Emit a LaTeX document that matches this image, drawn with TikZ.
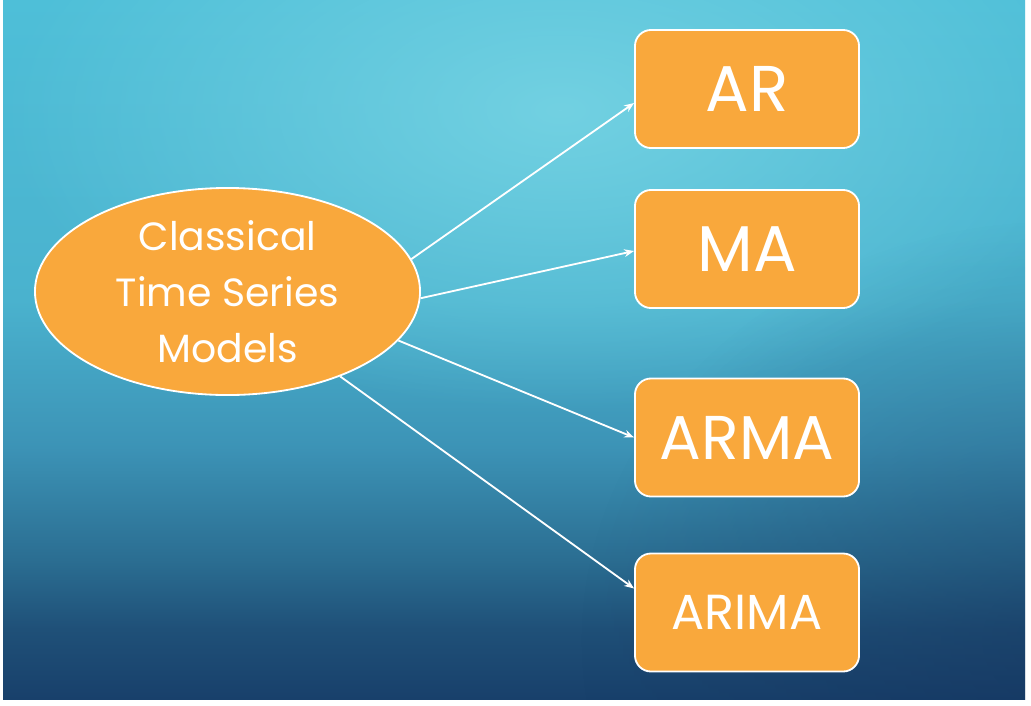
\documentclass[tikz,border=0pt]{standalone}
\usepackage{fontspec}
\setmainfont{Poppins}
\usetikzlibrary{shapes.geometric, arrows.meta, fadings, positioning}
\definecolor{orng}{HTML}{F9A83C}
\definecolor{bgtop}{HTML}{4EBFD8}
\definecolor{bgup}{HTML}{4AB2CE}
\definecolor{bgmid}{HTML}{3C93B6}
\definecolor{bglow}{HTML}{2B6E92}
\definecolor{bgdeep}{HTML}{1F5078}
\definecolor{bgbot}{HTML}{18406B}
\definecolor{hilite}{HTML}{72D1E2}
\definecolor{bgdark}{HTML}{14305A}
% inner 25bp--75bp band is what covers the path
\pgfdeclareverticalshading{slidebg}{100bp}{color(0bp)=(bgbot); color(25bp)=(bgbot); color(30bp)=(bgdeep); color(35bp)=(bglow); color(43bp)=(bgmid); color(53.5bp)=(bgup); color(75bp)=(bgtop); color(100bp)=(bgtop)}
\tikzfading[name=glow, inner color=transparent!0, outer color=transparent!100]

\begin{document}
\begin{tikzpicture}[x=0.025cm, y=-0.025cm,
	ovl/.style={draw=white, line width=1.3pt, ellipse, fill=orng,
		minimum width=9.625cm, minimum height=5.175cm, inner sep=0pt,
		text=white, align=center, font=\fontsize{28}{40}\selectfont},
	boxy/.style={draw=white, line width=1.3pt, rounded corners=0.4cm, fill=orng,
		minimum width=5.6cm, minimum height=2.95cm, text=white},
	arw/.style={draw=white, line width=1.3pt, -{Stealth[length=7pt,width=5.5pt]}}]
	\useasboundingbox (0,0) rectangle (1031,705);
	\fill[white] (0,0) rectangle (1031,705);
	\shade[shading=slidebg] (3,0) rectangle (1025,699);
	\begin{scope}
		\clip (3,0) rectangle (1025,699);
		\fill[hilite, path fading=glow] (560,110) ellipse (560 and 300);
		\fill[bgdark, opacity=0.4, path fading=glow] (1060,640) ellipse (480 and 420);
	\end{scope}
	\node [ovl] (0) at (227.5,291.5) {Classical\\Time Series\\Models};
	\node [boxy, font=\fontsize{46}{50}\selectfont] (1) at (747,89) {AR};
	\node [boxy, font=\fontsize{46}{50}\selectfont] (2) at (747,249) {MA};
	\node [boxy, font=\fontsize{44}{50}\selectfont] (3) at (747,437.5) {ARMA};
	\node [boxy, font=\fontsize{35}{40}\selectfont] (4) at (747,612.5) {ARIMA};
	\draw [arw] (0.10.3) -- ([yshift=-0.35cm]1.west);
	\draw [arw] (0.-2.5) -- ([yshift=-0.05cm]2.west);
	\draw [arw] (0.-16.3) -- (3.west);
	\draw [arw] (0.-37.2) -- ([yshift=0.6cm]4.west);
\end{tikzpicture}
\end{document}
